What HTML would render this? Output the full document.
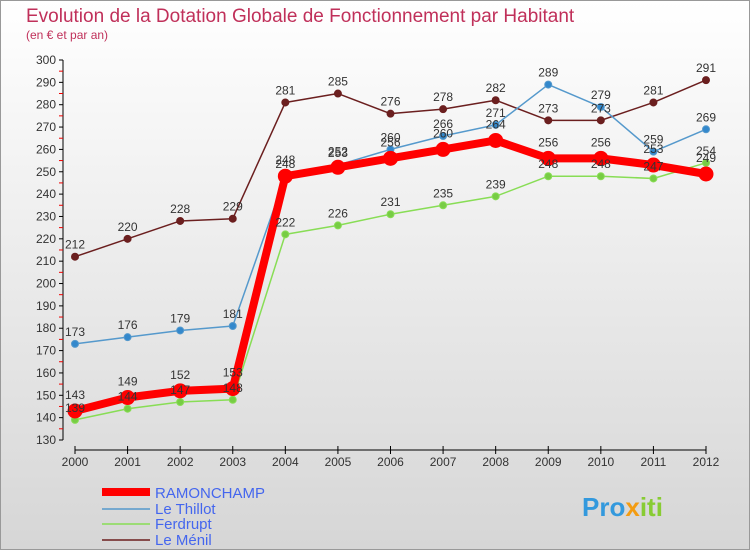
<!DOCTYPE html>
<html><head><meta charset="utf-8"><style>
body{margin:0;width:750px;height:550px;overflow:hidden;font-family:"Liberation Sans",sans-serif}
svg{display:block}
</style></head><body>
<svg id="c" width="750" height="550">
<defs><linearGradient id="bg" x1="0" y1="0" x2="0" y2="1"><stop offset="0" stop-color="#ffffff"/><stop offset="1" stop-color="#d6d6d6"/></linearGradient></defs>
<rect x="0.5" y="0.5" width="749" height="549" fill="url(#bg)" stroke="#999"/>
<text x="26" y="22" font-size="19" fill="#c0305a">Evolution de la Dotation Globale de Fonctionnement par Habitant</text>
<text x="26" y="39" font-size="12" fill="#c0305a">(en € et par an)</text>
<g id="axes"></g><g id="series"></g><g id="labels"></g>
<g>
<line x1="102" y1="492" x2="150" y2="492" stroke="#f00" stroke-width="8"/>
<text x="155" y="498" font-size="15" fill="#4466ee">RAMONCHAMP</text>
<line x1="102" y1="509" x2="150" y2="509" stroke="#5599cc" stroke-width="1.5"/>
<text x="155" y="514" font-size="15" fill="#4466ee">Le Thillot</text>
<line x1="102" y1="524" x2="150" y2="524" stroke="#88dd55" stroke-width="1.5"/>
<text x="155" y="529" font-size="15" fill="#4466ee">Ferdrupt</text>
<line x1="102" y1="540" x2="150" y2="540" stroke="#6b1f1f" stroke-width="1.5"/>
<text x="155" y="545" font-size="15" fill="#4466ee">Le Ménil</text>
</g>
<text x="582" y="516" font-size="26" font-weight="bold" fill="#3399dd">Pro<tspan fill="#f39c12">x</tspan><tspan fill="#88cc33">iti</tspan></text>
</svg>
<script>
const years=[2000,2001,2002,2003,2004,2005,2006,2007,2008,2009,2010,2011,2012];
const ramonchamp=[143,149,152,153,248,252,256,260,264,256,256,253,249];
const thillot=[173,176,179,181,248,253,260,266,271,289,279,259,269];
const ferdrupt=[139,144,147,148,222,226,231,235,239,248,248,247,254];
const menil=[212,220,228,229,281,285,276,278,282,273,273,281,291];
const yTicks=[130,140,150,160,170,180,190,200,210,220,230,240,250,260,270,280,290,300];
const NS="http://www.w3.org/2000/svg";
const X0=75,X1=706,Y0=440,Y1=60,VMIN=130,VMAX=300;
const xs=i=>X0+(X1-X0)*i/(years.length-1);
const ys=v=>Y0-(v-VMIN)*(Y0-Y1)/(VMAX-VMIN);
function mk(t,a,p){const e=document.createElementNS(NS,t);for(const k in a)e.setAttribute(k,a[k]);p.appendChild(e);return e;}
const ax=document.getElementById('axes');
const yl=mk('line',{x1:63,y1:Y1,x2:63,y2:Y0,stroke:'#000'},ax);


yTicks.forEach(v=>{
 const y=ys(v);
 const t=mk('line',{x1:59,y1:y,x2:63,y2:y,stroke:'#000'},ax);
 
 
 if(v<VMAX){const m=mk('line',{x1:59,y1:y-11.2,x2:63,y2:y-11.2,stroke:'#e00'},ax);
 
 }
 const tx=mk('text',{x:56,y:y+4,'font-size':12,'text-anchor':'end',fill:'#333'},ax);tx.textContent=v;
 
 
});
const xl=mk('line',{x1:X0,y1:450,x2:X1,y2:450,stroke:'#000'},ax);


years.forEach((yr,i)=>{
 const x=xs(i);
 const t=mk('line',{x1:x,y1:446,x2:x,y2:454,stroke:'#000'},ax);
 
 
 const tx=mk('text',{x:x,y:466,'font-size':12,'text-anchor':'middle',fill:'#333'},ax);tx.textContent=yr;
 
 
});
const sg=document.getElementById('series');
const lg=document.getElementById('labels');
function series(name,vals,col,w,r,fill){
 const g=mk('g',{},sg);
 
 
 const pl=mk('polyline',{points:vals.map((v,i)=>xs(i)+','+ys(v)).join(' '),fill:'none',stroke:col,'stroke-width':w,'stroke-linejoin':'round'},g);
 
 
 vals.forEach((v,i)=>{
  const c=mk('circle',{cx:xs(i),cy:ys(v),r:r,fill:fill,stroke:col,'stroke-width':1},g);
  
  
  const t=mk('text',{x:xs(i),y:ys(v)-8-(r>5?4:0),'font-size':12,'text-anchor':'middle',fill:'#333'},lg);t.textContent=v;
  
  
 });
}
series('menil',menil,'#6b1f1f',1.5,3.5,'#6b1f1f');
series('thillot',thillot,'#5599cc',1.5,3.5,'#3388cc');
series('ferdrupt',ferdrupt,'#88dd55',1.5,3.5,'#77cc44');
series('ramonchamp',ramonchamp,'#f00',8,7,'#f00');
</script>
</body></html>
